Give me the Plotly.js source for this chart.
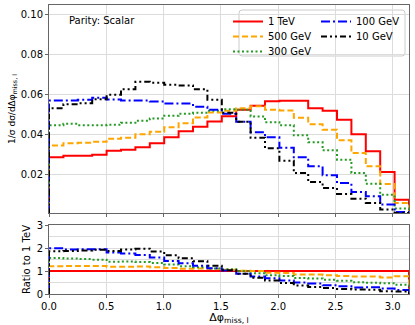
<!DOCTYPE html>
<html>
<head>
<meta charset="utf-8">
<script src="https://cdn.plot.ly/plotly-3.0.1.min.js"></script>
<style>html,body{margin:0;padding:0;background:#fff;}#chart{width:415px;height:325px;}</style>
</head>
<body>
<div id="chart"></div>
<script>
// ---- data ----
const nBins = 25;
const edges = Array.from({length: nBins + 1}, (_, k) => k * Math.PI / nBins);
const seriesNames = ['1 TeV', '500 GeV', '300 GeV', '100 GeV', '10 GeV'];
const tev1   = [0.0287, 0.0295, 0.0295, 0.0300, 0.0320, 0.0325, 0.0338, 0.0357, 0.0387, 0.0417, 0.0440, 0.0467, 0.0493, 0.0525, 0.0545, 0.0568, 0.0570, 0.0570, 0.0533, 0.0520, 0.0475, 0.0403, 0.0317, 0.0213, 0.0075];
const gev500 = [0.0346, 0.0358, 0.0360, 0.0365, 0.0380, 0.0385, 0.0403, 0.0415, 0.0438, 0.0458, 0.0487, 0.0512, 0.0520, 0.0533, 0.0543, 0.0525, 0.0522, 0.0485, 0.0453, 0.0425, 0.0373, 0.0308, 0.0242, 0.0153, 0.0058];
const gev300 = [0.0448, 0.0455, 0.0448, 0.0448, 0.0450, 0.0460, 0.0470, 0.0482, 0.0495, 0.0505, 0.0510, 0.0520, 0.0528, 0.0525, 0.0492, 0.0463, 0.0447, 0.0397, 0.0362, 0.0322, 0.0275, 0.0208, 0.0155, 0.0100, 0.0030];
const gev100 = [0.0572, 0.0572, 0.0575, 0.0585, 0.0577, 0.0572, 0.0572, 0.0567, 0.0556, 0.0556, 0.0540, 0.0525, 0.0505, 0.0465, 0.0413, 0.0387, 0.0335, 0.0287, 0.0242, 0.0197, 0.0158, 0.0113, 0.0092, 0.0050, 0.0013];
const gev10  = [0.0533, 0.0553, 0.0558, 0.0578, 0.0600, 0.0628, 0.0665, 0.0660, 0.0650, 0.0647, 0.0628, 0.0575, 0.0510, 0.0465, 0.0385, 0.0332, 0.0270, 0.0208, 0.0163, 0.0133, 0.0103, 0.0080, 0.0058, 0.0025, 0.0008];
const xTicks = [0, 0.5, 1.0, 1.5, 2.0, 2.5, 3.0];
const yTopTicks = [0.02, 0.04, 0.06, 0.08, 0.10];
const yRatioTicks = [0, 1, 2, 3];

// ---- styles ----
const colors = ['#ff0000', '#ffa500', '#259a25', '#0000ff', '#000000'];
const dashes = ['solid', '6px,3px', '2px,2.5px', '9px,3px,2px,3px', '6px,3px,2px,3px,2px,3px'];
const legendIds = ['legend', 'legend2', 'legend3', 'legend4', 'legend5'];
// legend cell positions (pixel): [left x of item, top y]
const legendCells = [[228, 7], [228, 22], [228, 37], [316, 7], [316, 22]];
const allSeries = [tev1, gev500, gev300, gev100, gev10];

function stepXY(vals) {
  const xs = [edges[0]], ys = [0];
  for (let k = 0; k < vals.length; k++) { xs.push(edges[k]); ys.push(vals[k]); }
  xs.push(edges[vals.length]); ys.push(vals[vals.length - 1]);
  xs.push(edges[vals.length]); ys.push(0);
  return [xs, ys];
}

const traces = [];
allSeries.forEach((s, i) => {
  const [xs, ys] = stepXY(s);
  traces.push({
    x: xs, y: ys, xaxis: 'x', yaxis: 'y', type: 'scatter', mode: 'lines',
    line: {shape: 'hv', color: colors[i], width: 2, dash: dashes[i]},
    name: seriesNames[i], legend: legendIds[i], showlegend: true, hoverinfo: 'skip'
  });
});
allSeries.forEach((s, i) => {
  const ratio = s.map((v, k) => v / tev1[k]);
  const [xs, ys] = stepXY(ratio);
  traces.push({
    x: xs, y: ys, xaxis: 'x2', yaxis: 'y2', type: 'scatter', mode: 'lines',
    line: {shape: 'hv', color: colors[i], width: 2, dash: dashes[i]},
    name: seriesNames[i], showlegend: false, hoverinfo: 'skip'
  });
});

const W = 415, H = 325, mL = 49, mR = 6, mT = 5, mB = 31;
const pw = W - mL - mR, ph = H - mT - mB;
const px = v => (v - mL) / pw;
const py = v => (H - mB - v) / ph;

const gridC = '#dcdcdc', lineC = '#666';
const axBase = {showline: true, mirror: true, linecolor: lineC, linewidth: 1, gridcolor: gridC, gridwidth: 1,
  zeroline: false, ticks: 'outside', ticklen: 3, tickcolor: lineC, tickfont: {size: 10, color: '#000'}};

// rounded legend frame path in paper coords
function roundRect(x0p, y0p, x1p, y1p, r) {
  const X0 = px(x0p), X1 = px(x1p), Yt = py(y0p), Yb = py(y1p);
  const rx = r / pw, ry = r / ph;
  return `M${X0 + rx},${Yt} L${X1 - rx},${Yt} Q${X1},${Yt} ${X1},${Yt - ry} L${X1},${Yb + ry} Q${X1},${Yb} ${X1 - rx},${Yb} ` +
         `L${X0 + rx},${Yb} Q${X0},${Yb} ${X0},${Yb + ry} L${X0},${Yt - ry} Q${X0},${Yt} ${X0 + rx},${Yt} Z`;
}

const layout = {
  width: W, height: H,
  margin: {l: mL, r: mR, t: mT, b: mB},
  paper_bgcolor: '#fff', plot_bgcolor: '#fff',
  font: {family: 'DejaVu Sans', size: 10, color: '#000'},
  xaxis: Object.assign({}, axBase, {domain: [0, 1], range: [0, Math.PI], anchor: 'y', tickvals: xTicks, showticklabels: false}),
  yaxis: Object.assign({}, axBase, {domain: [py(213), 1], range: [0.0008, 0.105], anchor: 'x', tickvals: yTopTicks, tickformat: '.2f',
    title: {text: '1/σ dσ/dΔφ<sub>miss, l</sub>', font: {size: 9}, standoff: 3}}),
  xaxis2: Object.assign({}, axBase, {domain: [0, 1], range: [0, Math.PI], anchor: 'y2', tickvals: xTicks, tickformat: '.1f',
    title: {text: 'Δφ<sub>miss, l</sub>', font: {size: 11}, standoff: 2}}),
  yaxis2: Object.assign({}, axBase, {domain: [0, py(225)], range: [0, 3], anchor: 'x2', tickvals: yRatioTicks,
    minor: {dtick: 0.5, showgrid: true, gridcolor: gridC, ticks: ''},
    title: {text: 'Ratio to 1 TeV', font: {size: 10}, standoff: 4}}),
  shapes: [{type: 'path', xref: 'paper', yref: 'paper', path: roundRect(239, 10, 405, 56, 3),
    line: {color: '#cccccc', width: 1}, fillcolor: 'rgba(255,255,255,0.8)', layer: 'below'}],
  annotations: [{text: 'Parity: Scalar', xref: 'paper', yref: 'paper', x: px(67), y: py(20), xanchor: 'left', yanchor: 'middle',
    showarrow: false, font: {size: 10}}]
};
legendIds.forEach((id, i) => {
  layout[id] = {x: px(legendCells[i][0]), y: py(legendCells[i][1]), xanchor: 'left', yanchor: 'top',
    bgcolor: 'rgba(0,0,0,0)', borderwidth: 0, font: {size: 10}};
});

Plotly.newPlot('chart', traces, layout, {displayModeBar: false, staticPlot: true});
</script>
</body>
</html>
